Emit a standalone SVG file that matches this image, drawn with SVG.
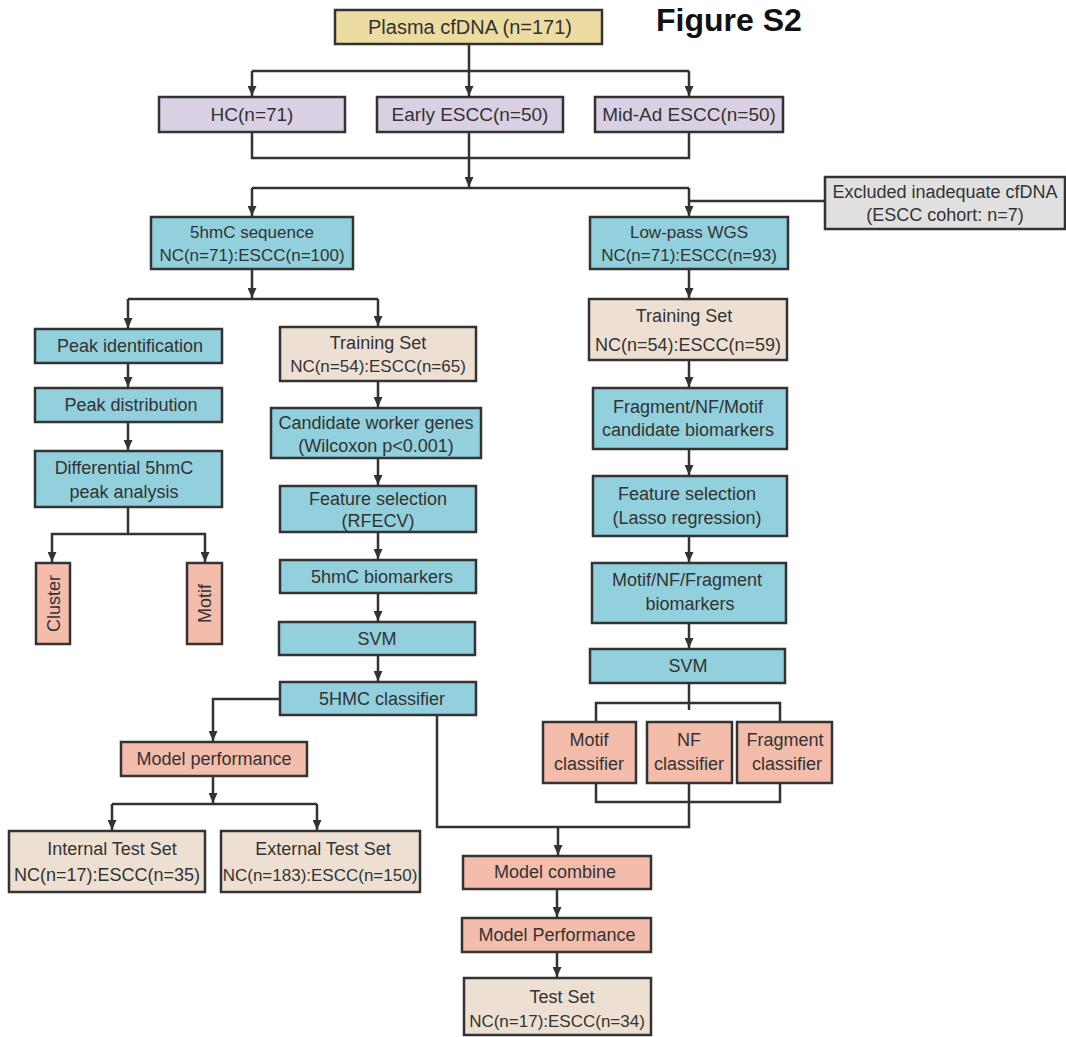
<svg xmlns="http://www.w3.org/2000/svg" width="1066" height="1037" viewBox="0 0 1066 1037">
<defs>
<style>
rect{stroke:#333;stroke-width:2.5}
.y{fill:#ecdca2}.p{fill:#d9d0e3}.t{fill:#91d0dc}.b{fill:#ede0d3}.s{fill:#f3bcab}.g{fill:#e0e0e0}
text{font-family:"Liberation Sans",Arial,sans-serif;font-size:18px;fill:#333;text-anchor:middle}
.sm{font-size:17px}
.lg{font-size:19px}
.xl{font-size:20px}
.fig{font-size:32px;font-weight:bold;fill:#111;text-anchor:start}
.c path{fill:none;stroke:#333;stroke-width:2.5}
</style>
<marker id="a" markerUnits="userSpaceOnUse" markerWidth="10" markerHeight="9" refX="10" refY="4.5" orient="auto" viewBox="0 0 10 9"><path d="M0,0 L10,4.5 L0,9 z" fill="#333"/></marker>
</defs>
<rect width="1066" height="1037" fill="#fff" style="stroke:none"/>
<text class="fig" x="656" y="31">Figure S2</text>

<g class="c">
<path d="M469,44 V71"/>
<path d="M252,71 H689"/>
<path d="M252,71 V96" marker-end="url(#a)"/>
<path d="M469,71 V96" marker-end="url(#a)"/>
<path d="M689,71 V96" marker-end="url(#a)"/>
<path d="M252,132 V158 H689 V132"/>
<path d="M469,132 V187" marker-end="url(#a)"/>
<path d="M252,188 H689"/>
<path d="M252,188 V216" marker-end="url(#a)"/>
<path d="M689,188 V216" marker-end="url(#a)"/>
<path d="M825,201 H689"/>
<path d="M252,269 V298" marker-end="url(#a)"/>
<path d="M128,299 H378"/>
<path d="M128,299 V328" marker-end="url(#a)"/>
<path d="M378,299 V326" marker-end="url(#a)"/>
<path d="M128,363 V387" marker-end="url(#a)"/>
<path d="M128,422 V450" marker-end="url(#a)"/>
<path d="M128,507 V534"/>
<path d="M128,534 H52 V562" marker-end="url(#a)"/>
<path d="M128,534 H205 V562" marker-end="url(#a)"/>
<path d="M378,381 V407" marker-end="url(#a)"/>
<path d="M378,458 V485" marker-end="url(#a)"/>
<path d="M378,532 V559" marker-end="url(#a)"/>
<path d="M378,593 V621" marker-end="url(#a)"/>
<path d="M378,655 V681" marker-end="url(#a)"/>
<path d="M280,699 H213 V741" marker-end="url(#a)"/>
<path d="M213,776 V803" marker-end="url(#a)"/>
<path d="M112,804 H317"/>
<path d="M112,804 V830" marker-end="url(#a)"/>
<path d="M317,804 V830" marker-end="url(#a)"/>
<path d="M437,715 V827 H689 V783"/>
<path d="M596,783 V802 H780 V783"/>
<path d="M558,827 V855" marker-end="url(#a)"/>
<path d="M557,889 V917" marker-end="url(#a)"/>
<path d="M557,952 V977" marker-end="url(#a)"/>
<path d="M689,269 V298" marker-end="url(#a)"/>
<path d="M689,360 V387" marker-end="url(#a)"/>
<path d="M689,449 V475" marker-end="url(#a)"/>
<path d="M689,536 V562" marker-end="url(#a)"/>
<path d="M689,623 V648" marker-end="url(#a)"/>
<path d="M689,683 V710"/>
<path d="M596,722 V703 H780 V722"/>
</g>

<g id="plasma"><rect class="y" x="335" y="10" width="267" height="34"/><text class="xl" x="470" y="34">Plasma cfDNA (n=171)</text></g>
<g id="hc"><rect class="p" x="159" y="97" width="186" height="35"/><text class="lg" x="252" y="121">HC(n=71)</text></g>
<g id="early"><rect class="p" x="377" y="97" width="186" height="35"/><text class="lg" x="470" y="121">Early ESCC(n=50)</text></g>
<g id="midad"><rect class="p" x="595" y="97" width="188" height="35"/><text class="lg" x="689" y="121">Mid-Ad ESCC(n=50)</text></g>
<g id="excluded"><rect class="g" x="825" y="177" width="240" height="52"/><text x="945" y="198">Excluded inadequate cfDNA</text><text x="945" y="221">(ESCC cohort: n=7)</text></g>
<g id="seq5hmc"><rect class="t" x="151" y="217" width="202" height="52"/><text class="sm" x="252" y="238">5hmC sequence</text><text class="sm" x="252" y="261">NC(n=71):ESCC(n=100)</text></g>
<g id="lowpass"><rect class="t" x="590" y="217" width="198" height="52"/><text class="sm" x="689" y="238">Low-pass WGS</text><text class="sm" x="689" y="261">NC(n=71):ESCC(n=93)</text></g>
<g id="peakid"><rect class="t" x="35" y="329" width="187" height="34"/><text x="130" y="352">Peak identification</text></g>
<g id="peakdist"><rect class="t" x="35" y="388" width="187" height="34"/><text x="131" y="411">Peak distribution</text></g>
<g id="diff"><rect class="t" x="35" y="451" width="187" height="56"/><text x="124" y="474">Differential 5hmC</text><text x="124" y="498">peak analysis</text></g>
<g id="cluster"><rect class="s" x="36" y="563" width="34" height="81"/><text transform="translate(59.5,603.5) rotate(-90)">Cluster</text></g>
<g id="motifL"><rect class="s" x="187" y="563" width="35" height="81"/><text transform="translate(211,603.5) rotate(-90)">Motif</text></g>
<g id="trainL"><rect class="b" x="280" y="327" width="196" height="54"/><text x="378" y="349">Training Set</text><text class="sm" x="378" y="372">NC(n=54):ESCC(n=65)</text></g>
<g id="candidate"><rect class="t" x="271" y="408" width="210" height="50"/><text x="376" y="429">Candidate worker genes</text><text x="376" y="452">(Wilcoxon p&lt;0.001)</text></g>
<g id="fsL"><rect class="t" x="280" y="486" width="196" height="46"/><text x="378" y="505">Feature selection</text><text x="378" y="527">(RFECV)</text></g>
<g id="bio5hmc"><rect class="t" x="280" y="560" width="196" height="33"/><text x="382" y="583">5hmC biomarkers</text></g>
<g id="svmL"><rect class="t" x="279" y="622" width="196" height="33"/><text x="377" y="645">SVM</text></g>
<g id="cls5hmc"><rect class="t" x="280" y="682" width="196" height="33"/><text x="382" y="705">5HMC classifier</text></g>
<g id="perfL"><rect class="s" x="121" y="742" width="186" height="34"/><text x="214" y="765">Model performance</text></g>
<g id="internal"><rect class="b" x="9" y="831" width="196" height="61"/><text x="112" y="855">Internal Test Set</text><text x="107" y="881">NC(n=17):ESCC(n=35)</text></g>
<g id="external"><rect class="b" x="221" y="831" width="199" height="61"/><text x="323" y="855">External Test Set</text><text class="sm" x="320" y="881">NC(n=183):ESCC(n=150)</text></g>
<g id="trainR"><rect class="b" x="589" y="299" width="198" height="61"/><text x="684" y="322">Training Set</text><text x="688" y="351">NC(n=54):ESCC(n=59)</text></g>
<g id="candR"><rect class="t" x="593" y="388" width="194" height="61"/><text x="688" y="413">Fragment/NF/Motif</text><text x="688" y="436">candidate biomarkers</text></g>
<g id="fsR"><rect class="t" x="593" y="476" width="194" height="60"/><text x="687" y="500">Feature selection</text><text x="687" y="524">(Lasso regression)</text></g>
<g id="bioR"><rect class="t" x="592" y="563" width="194" height="60"/><text x="687" y="586">Motif/NF/Fragment</text><text x="690" y="610">biomarkers</text></g>
<g id="svmR"><rect class="t" x="590" y="649" width="195" height="34"/><text x="688" y="672">SVM</text></g>
<g id="motifC"><rect class="s" x="543" y="722" width="93" height="61"/><text x="589" y="746">Motif</text><text x="589" y="770">classifier</text></g>
<g id="nfC"><rect class="s" x="647" y="722" width="85" height="61"/><text x="689" y="746">NF</text><text x="689" y="770">classifier</text></g>
<g id="fragC"><rect class="s" x="737" y="722" width="95" height="61"/><text x="785" y="746">Fragment</text><text x="787" y="770">classifier</text></g>
<g id="combine"><rect class="s" x="463" y="856" width="188" height="33"/><text x="555" y="878">Model combine</text></g>
<g id="perfR"><rect class="s" x="462" y="918" width="189" height="34"/><text x="557" y="941">Model Performance</text></g>
<g id="testset"><rect class="b" x="464" y="978" width="187" height="57"/><text x="562" y="1003">Test Set</text><text class="sm" x="557" y="1027">NC(n=17):ESCC(n=34)</text></g>
</svg>
